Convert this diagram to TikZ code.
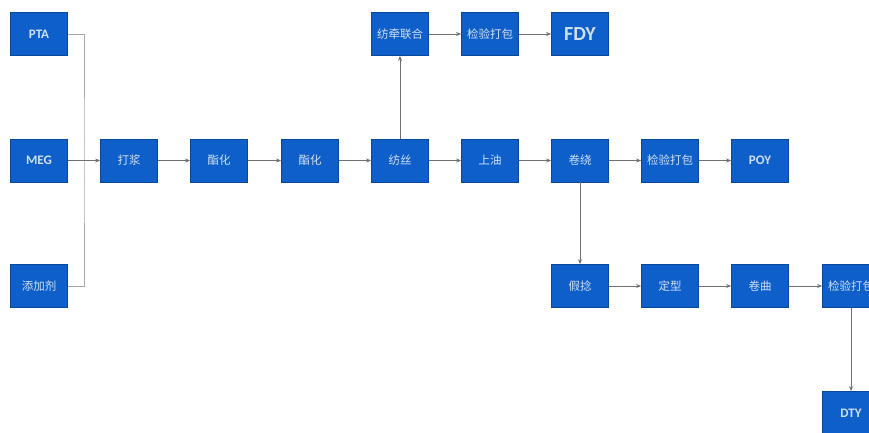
\documentclass[tikz,border=0pt]{standalone}
\usepackage{fontspec}
\setmainfont{Noto Sans CJK SC}
\newfontfamily\lat{Carlito}
\usetikzlibrary{arrows.meta}
\definecolor{boxfill}{HTML}{0F5FCB}
\definecolor{boxedge}{HTML}{0A4799}
\definecolor{boxtext}{HTML}{CFE0F5}
\definecolor{linec}{HTML}{707070}
\definecolor{busc}{HTML}{A8A8A8}
\tikzset{
  pbox/.style={draw=boxedge, line width=0.8pt, fill=boxfill, text=boxtext,
    minimum width=57pt, minimum height=43pt, inner sep=0pt, font=\fontsize{11.5}{12}\selectfont},
  lbox/.style={pbox, font=\lat\bfseries\fontsize{13}{14}\selectfont},
  conn/.style={draw=linec, line width=0.7pt, -{Stealth[length=5pt,width=4pt]}},
  bus/.style={draw=busc, line width=1pt}
}
\begin{document}
\begin{tikzpicture}[x=1pt,y=-1pt]
\useasboundingbox (0,0) rectangle (869,432);
\clip (0,0) rectangle (869,432);
% left inputs
\node[lbox] (pta) at (39,34) {PTA};
\node[lbox] (meg) at (39,160.5) {MEG};
\node[pbox] (add) at (39,286) {添加剂};
% main row
\node[pbox] (dj) at (129,160.5) {打浆};
\node[pbox] (zh1) at (219,160.5) {酯化};
\node[pbox] (zh2) at (310,160.5) {酯化};
\node[pbox] (fs) at (400,160.5) {纺丝};
\node[pbox] (sy) at (490,160.5) {上油};
\node[pbox] (jr) at (580,160.5) {卷绕};
\node[pbox] (jy2) at (670,160.5) {检验打包};
\node[lbox] (poy) at (760,160.5) {POY};
% top row
\node[pbox] (fq) at (400,34) {纺牵联合};
\node[pbox] (jy1) at (490,34) {检验打包};
\node[lbox, font=\lat\bfseries\fontsize{20}{22}\selectfont] (fdy) at (580,34) {FDY};
% bottom row
\node[pbox] (jn) at (580,286) {假捻};
\node[pbox] (dx) at (670,286) {定型};
\node[pbox] (jq) at (760,286) {卷曲};
\node[pbox] (jy3) at (851,286) {检验打包};
\node[lbox] (dty) at (851,413) {DTY};
% bus
\coordinate (bus) at (84,160.5);
\draw[bus] (pta.east) -| (bus) |- (add.east);
% connectors
\draw[conn] (meg) -- (dj);
\draw[conn] (dj) -- (zh1);
\draw[conn] (zh1) -- (zh2);
\draw[conn] (zh2) -- (fs);
\draw[conn] (fs) -- (sy);
\draw[conn] (sy) -- (jr);
\draw[conn] (jr) -- (jy2);
\draw[conn] (jy2) -- (poy);
\draw[conn] (fs) -- (fq);
\draw[conn] (fq) -- (jy1);
\draw[conn] (jy1) -- (fdy);
\draw[conn] (jr) -- (jn);
\draw[conn] (jn) -- (dx);
\draw[conn] (dx) -- (jq);
\draw[conn] (jq) -- (jy3);
\draw[conn] (jy3) -- (dty);
\end{tikzpicture}
\end{document}
